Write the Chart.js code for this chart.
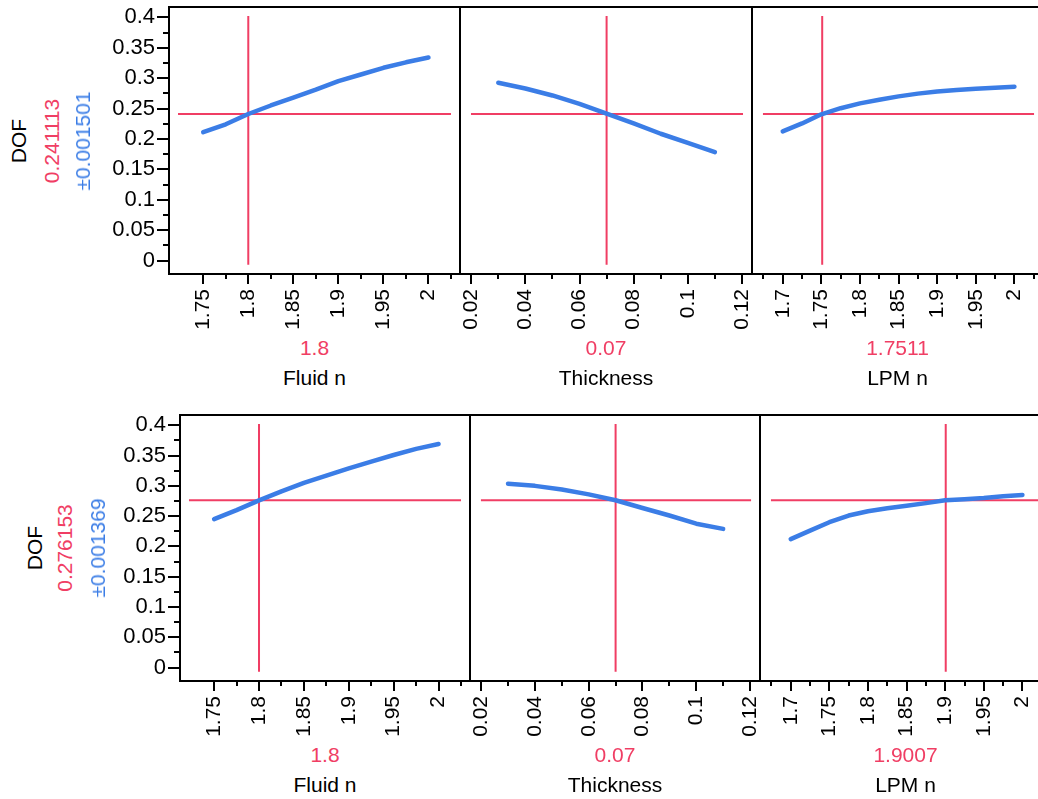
<!DOCTYPE html>
<html><head><meta charset="utf-8">
<script src="https://cdn.jsdelivr.net/npm/chart.js@4/dist/chart.umd.min.js"></script>
<style>
html,body{margin:0;padding:0;background:#fff;overflow:hidden;}
#wrap{position:relative;width:1038px;height:799px;overflow:hidden;background:#fff;font-family:'Liberation Sans',Arial,sans-serif;}
#wrap canvas{position:absolute;}
.lbl{position:absolute;white-space:nowrap;font-size:21px;line-height:24px;transform:translate(-50%,-50%);z-index:5;}
.rot{transform:translate(-50%,-50%) rotate(-90deg);}
</style></head><body><div id="wrap"></div>
<script>
// ---------------- data ----------------
const factorNames = ['Fluid n', 'Thickness', 'LPM n'];
const responseName = 'DOF';

const fluidN    = [1.75, 1.775, 1.8, 1.825, 1.85, 1.875, 1.9, 1.925, 1.95, 1.975, 2.0];
const thickness = [0.03, 0.04, 0.05, 0.06, 0.07, 0.08, 0.09, 0.10, 0.11];
const lpmN      = [1.7, 1.725, 1.75, 1.775, 1.8, 1.825, 1.85, 1.875, 1.9, 1.925, 1.95, 1.975, 2.0];

const dofTopFluid = [0.211, 0.224, 0.241, 0.255, 0.268, 0.281, 0.295, 0.306, 0.317, 0.326, 0.334];
const dofTopThick = [0.2925, 0.2830, 0.2715, 0.2575, 0.2415, 0.2255, 0.2085, 0.1935, 0.1783];
const dofTopLpm   = [0.2125, 0.2255, 0.2405, 0.2505, 0.2585, 0.2645, 0.2700, 0.2745, 0.2780, 0.2805, 0.2825, 0.2840, 0.2860];

const dofBotFluid = [0.245, 0.260, 0.276, 0.291, 0.305, 0.317, 0.329, 0.340, 0.351, 0.361, 0.369];
const dofBotThick = [0.3035, 0.3000, 0.2940, 0.2860, 0.2762, 0.2635, 0.2510, 0.2375, 0.2290];
const dofBotLpm   = [0.212, 0.226, 0.240, 0.251, 0.258, 0.263, 0.267, 0.2715, 0.2762, 0.278, 0.280, 0.283, 0.285];

const topSettings = [1.8, 0.07, 1.7511];
const botSettings = [1.8, 0.07, 1.9007];
const topPrediction = 0.241113, topHalfWidth = 0.001501;
const botPrediction = 0.276153, botHalfWidth = 0.001369;

const fluidTickLabels = ['1.75', '1.8', '1.85', '1.9', '1.95', '2'];
const fluidMinorTicks = [1.775, 1.825, 1.875, 1.925, 1.975, 2.025];
const thickTickLabels = ['0.02', '0.04', '0.06', '0.08', '0.1', '0.12'];
const thickMinorTicks = [0.03, 0.05, 0.07, 0.09, 0.11];
const lpmTickLabels   = ['1.7', '1.75', '1.8', '1.85', '1.9', '1.95', '2'];
const lpmMinorTicks   = [1.675, 1.725, 1.775, 1.825, 1.875, 1.925, 1.975, 2.025];
const dofTickLabels   = ['0', '0.05', '0.1', '0.15', '0.2', '0.25', '0.3', '0.35', '0.4'];
const dofMinorTicks   = [0.025, 0.075, 0.125, 0.175, 0.225, 0.275, 0.325, 0.375];

// ---------------- style / layout ----------------
const RED = 'rgb(240,62,100)';
const BLUE = 'rgb(59,125,230)';
const FONT = "'Liberation Sans', Arial, sans-serif";
const xRanges = [[1.712, 2.035], [0.0166, 0.1237], [1.6628, 2.037]];
const yRange = [-0.0222, 0.417];
const xSeries = [fluidN, thickness, lpmN];
const xTickSets = [[fluidTickLabels, fluidMinorTicks], [thickTickLabels, thickMinorTicks], [lpmTickLabels, lpmMinorTicks]];

const rows = [
  { frameLefts: [169, 460, 752], frameTop: 7, frameH: 267, ys: [dofTopFluid, dofTopThick, dofTopLpm],
    settings: topSettings, pred: topPrediction, half: topHalfWidth, labelX: [19, 52, 83], valueY: 348, titleY: 378 },
  { frameLefts: [180, 470, 760], frameTop: 415, frameH: 266, ys: [dofBotFluid, dofBotThick, dofBotLpm],
    settings: botSettings, pred: botPrediction, half: botHalfWidth, labelX: [35, 65, 98], valueY: 755, titleY: 785 }
];

const wrap = document.getElementById('wrap');

function tickObjs(labels, minors) {
  const vals = labels.map(Number).concat(minors);
  return vals.sort((a, b) => a - b).map(v => ({ value: v }));
}
function labelFor(labels, v) {
  const i = labels.findIndex(l => Math.abs(Number(l) - v) < 1e-9);
  return i >= 0 ? labels[i] : '';
}

const frameTicks = {
  id: 'frameTicks',
  afterDraw(chart, args, opts) {
    const ctx = chart.ctx, a = chart.chartArea;
    ctx.save();
    ctx.strokeStyle = '#000';
    ctx.lineWidth = 2;
    ctx.beginPath();
    if (opts.yAxis) { ctx.moveTo(a.left, a.bottom); ctx.lineTo(a.left, a.top - 1); }
    else { ctx.moveTo(a.left - 1, a.top); }
    ctx.moveTo(a.left - 1, a.top); ctx.lineTo(a.right, a.top); ctx.lineTo(a.right, a.bottom);
    ctx.moveTo(a.left - 1, a.bottom); ctx.lineTo(a.right + 1, a.bottom);
    const xs = chart.scales.x;
    xs.ticks.forEach(t => {
      const px = Math.round(xs.getPixelForValue(t.value));
      const len = t.label !== '' ? 10 : 5;
      ctx.moveTo(px, a.bottom); ctx.lineTo(px, a.bottom + len);
    });
    if (opts.yAxis) {
      const ys = chart.scales.y;
      ys.ticks.forEach(t => {
        const py = Math.round(ys.getPixelForValue(t.value));
        const len = t.label !== '' ? 12 : 6;
        ctx.moveTo(a.left, py); ctx.lineTo(a.left - len, py);
      });
    }
    ctx.stroke();
    ctx.restore();
  }
};

function addLabel(text, x, y, color, rot) {
  const d = document.createElement('div');
  d.className = 'lbl' + (rot ? ' rot' : '');
  d.textContent = text;
  d.style.left = x + 'px';
  d.style.top = y + 'px';
  d.style.color = color;
  wrap.appendChild(d);
}

rows.forEach(row => {
  for (let p = 0; p < 3; p++) {
    const first = p === 0;
    const left = row.frameLefts[p];
    const w = p < 2 ? row.frameLefts[p + 1] - left : 291;
    const YW = first ? 80 : 2;
    const XH = 60;
    const cv = document.createElement('canvas');
    cv.width = YW + w + 2;
    cv.height = 2 + row.frameH + XH;
    cv.style.left = (left - YW) + 'px';
    cv.style.top = (row.frameTop - 2) + 'px';
    wrap.appendChild(cv);

    const xr = xRanges[p];
    const pad = 0.031 * (xr[1] - xr[0]);
    const cur = row.settings[p];
    const xsData = xSeries[p];
    const ysData = row.ys[p];
    const [tLabels, tMinor] = xTickSets[p];

    new Chart(cv, {
      type: 'line',
      data: {
        datasets: [
          { data: xsData.map((x, i) => ({ x, y: ysData[i] })), borderColor: BLUE, borderWidth: 4.5,
            pointRadius: 0, tension: 0, borderCapStyle: 'round', borderJoinStyle: 'round' },
          { data: [{ x: cur, y: 0.402 }, { x: cur, y: -0.007 }], borderColor: RED, borderWidth: 2, pointRadius: 0 },
          { data: [{ x: xr[0] + pad, y: row.pred }, { x: xr[1] - pad, y: row.pred }], borderColor: RED, borderWidth: 2, pointRadius: 0 }
        ]
      },
      options: {
        responsive: false, animation: false, events: [],
        layout: { padding: { left: first ? 0 : 2, right: 2, top: 2, bottom: 0 } },
        plugins: { legend: { display: false }, tooltip: { enabled: false }, frameTicks: { yAxis: first } },
        scales: {
          x: {
            type: 'linear', min: xr[0], max: xr[1],
            grid: { display: false, drawTicks: false }, border: { display: false },
            afterBuildTicks: s => { s.ticks = tickObjs(tLabels, tMinor); },
            afterFit: s => { s.height = XH; s.paddingLeft = 0; s.paddingRight = 0; s.paddingTop = 0; s.paddingBottom = 0; },
            ticks: { autoSkip: false, minRotation: 90, maxRotation: 90, padding: 15, color: '#000',
                     font: { family: FONT, size: 21 }, callback: v => labelFor(tLabels, v) }
          },
          y: {
            type: 'linear', min: yRange[0], max: yRange[1], display: first,
            grid: { display: false, drawTicks: false }, border: { display: false },
            afterBuildTicks: s => { s.ticks = tickObjs(dofTickLabels, dofMinorTicks); },
            afterFit: s => { s.width = YW; s.paddingLeft = 0; s.paddingRight = 0; s.paddingTop = 0; s.paddingBottom = 0; },
            ticks: { autoSkip: false, padding: 14, color: '#000',
                     font: { family: FONT, size: 22 }, callback: v => labelFor(dofTickLabels, v) }
          }
        }
      },
      plugins: [frameTicks]
    });

    const cx = left + w / 2;
    addLabel(String(cur), cx, row.valueY, RED, false);
    addLabel(factorNames[p], cx, row.titleY, '#000', false);
  }
  const cy = row.frameTop + row.frameH / 2;
  addLabel(responseName, row.labelX[0], cy, '#000', true);
  addLabel(String(row.pred), row.labelX[1], cy, RED, true);
  addLabel('\u00B1' + String(row.half), row.labelX[2], cy, BLUE, true);
});
</script></body></html>
